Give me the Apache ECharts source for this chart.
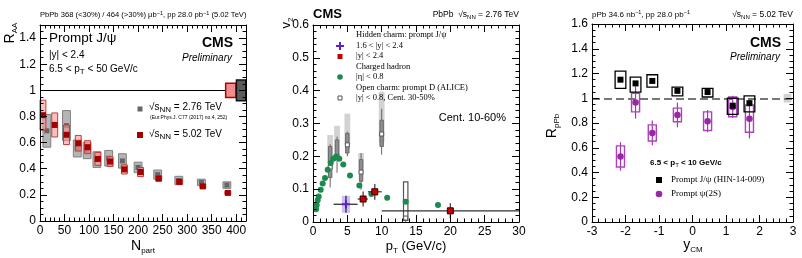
<!DOCTYPE html>
<html>
<head>
<meta charset="utf-8">
<script src="https://cdn.jsdelivr.net/npm/echarts@6/dist/echarts.min.js"></script>
<style>html,body{margin:0;padding:0;background:#fff}#c{width:802px;height:258px}</style>
</head>
<body>
<div id="c"></div>
<script>
// ---- left panel: R_AA vs Npart ----
var npart276 = [381, 329, 283, 240, 200, 168, 140, 116, 96, 76, 54, 14];
var raa276 = [0.275, 0.295, 0.31, 0.355, 0.41, 0.46, 0.48, 0.47, 0.54, 0.555, 0.73, 0.69];
var syst276 = [0.025, 0.025, 0.032, 0.035, 0.04, 0.055, 0.06, 0.06, 0.063, 0.065, 0.115, 0.125];
var npart502 = [383, 332, 284, 242, 205, 172, 143, 118, 97, 78, 54, 30, 6];
var raa502 = [0.215, 0.265, 0.30, 0.325, 0.375, 0.395, 0.455, 0.475, 0.565, 0.595, 0.66, 0.735, 0.81];
var syst502 = [0.013, 0.015, 0.018, 0.02, 0.035, 0.035, 0.037, 0.05, 0.05, 0.06, 0.075, 0.092, 0.115];
var global502 = 0.055, global276 = 0.08;

// ---- middle panel: v2 vs pT ----
var ptHadron = [0.44, 0.54, 0.68, 0.83, 1.12, 1.41, 1.75, 2.14, 2.58, 2.96, 3.35, 3.83, 4.41, 5.39, 6.75, 8.5, 10.8, 13.5, 18.2];
var v2Hadron = [0.039, 0.052, 0.066, 0.078, 0.098, 0.117, 0.134, 0.159, 0.18, 0.193, 0.199, 0.193, 0.175, 0.142, 0.111, 0.085, 0.074, 0.062, 0.052];
var ptD = [2.5, 3.5, 5.0, 7.0, 10.0, 13.5];
var v2D = [0.167, 0.20, 0.235, 0.152, 0.268, 0.012];
var dErrLo = [0.105, 0.15, 0.20, 0.098, 0.205, 0.0];
var dErrHi = [0.237, 0.26, 0.275, 0.21, 0.345, 0.12];
var dSystLo = [0.135, 0.19, 0.21, 0.124, 0.23, 0.005];
var dSystHi = [0.23, 0.25, 0.27, 0.19, 0.31, 0.122];
var dFeedLo = [0.18, 0.20, 0.237, 0.16, 0.243];
var dFeedHi = [0.265, 0.293, 0.33, 0.21, 0.397];
var ptJpsi = [7.3, 9.0, 20.0];
var v2Jpsi = [0.070, 0.092, 0.034];
var ptJpsiLo = [6.5, 8.0, 10.0];
var ptJpsiHi = [8.0, 10.0, 30.0];
var v2JpsiErr = [0.023, 0.024, 0.023];
var v2JpsiSyst = [0.01, 0.012, 0.01];
var ptJpsiFwd = [4.8];
var v2JpsiFwd = [0.054];
var ptJpsiFwdLo = [3.0];
var ptJpsiFwdHi = [6.5];
var v2JpsiFwdErr = [0.026];
var v2JpsiFwdSyst = [0.026];

// ---- right panel: R_pPb vs y_CM ----
var ycm = [-2.15, -1.7, -1.2, -0.45, 0.45, 1.2, 1.7];
var rJpsi = [1.15, 1.12, 1.14, 1.06, 1.05, 0.94, 0.96];
var rJpsiSystLo = [1.08, 1.05, 1.09, 1.02, 1.01, 0.87, 0.89];
var rJpsiSystHi = [1.22, 1.17, 1.19, 1.09, 1.08, 1.00, 1.02];
var rPsi2S = [0.53, 0.965, 0.72, 0.865, 0.815, 0.93, 0.835];
var rPsi2SErr = [0.115, 0.13, 0.10, 0.10, 0.09, 0.09, 0.16];
var rPsi2SSyst = [0.085, 0.075, 0.065, 0.055, 0.075, 0.08, 0.11];
var globalPPb = 0.035;

var FONT = '"Liberation Sans", Arial, sans-serif';
var SERIF = '"Liberation Serif", "Times New Roman", serif';
var CROSS = 'path://M3,0L5,0L5,3L8,3L8,5L5,5L5,8L3,8L3,5L0,5L0,3L3,3Z';

function mkAxis(gi, pos, min, max, interval, minor, labels, hideMax) {
    return {
        type: 'value', gridIndex: gi, position: pos, min: min, max: max, interval: interval,
        axisLine: {show: true, onZero: false, lineStyle: {color: '#000', width: 1}},
        axisTick: {show: true, inside: true, length: 7, lineStyle: {color: '#000', width: 1}},
        minorTick: {show: true, splitNumber: minor, length: 3.5, lineStyle: {color: '#000', width: 1}},
        splitLine: {show: false},
        axisLabel: {show: labels, color: '#000', fontSize: 12, fontFamily: FONT, margin: 4, showMaxLabel: hideMax ? false : null},
        z: 10
    };
}

function boxSeries(xi, yi, xs, lo, hi, hw, style, z) {
    var d = xs.map(function (x, i) { return [x, lo[i], hi[i]]; });
    return {
        type: 'custom', xAxisIndex: xi, yAxisIndex: yi, data: d, z: z, silent: true,
        encode: {x: 0, y: [1, 2]},
        renderItem: function (params, api) {
            var x = api.value(0);
            var a = api.coord([x - hw, api.value(2)]);
            var b = api.coord([x + hw, api.value(1)]);
            return {type: 'rect', shape: {x: a[0], y: a[1], width: b[0] - a[0], height: b[1] - a[1]}, style: style};
        }
    };
}

function errSeries(xi, yi, rows, color, w, z) {
    return {
        type: 'custom', xAxisIndex: xi, yAxisIndex: yi, data: rows, z: z, silent: true,
        encode: {x: 0, y: 1},
        renderItem: function (params, api) {
            var x = api.value(0), y = api.value(1);
            var v1 = api.coord([x, api.value(4)]), v2 = api.coord([x, api.value(5)]);
            var ch = [{type: 'line', shape: {x1: v1[0], y1: v1[1], x2: v2[0], y2: v2[1]}, style: {stroke: color, lineWidth: w}}];
            if (api.value(2) !== api.value(3)) {
                var h1 = api.coord([api.value(2), y]), h2 = api.coord([api.value(3), y]);
                ch.push({type: 'line', shape: {x1: h1[0], y1: h1[1], x2: h2[0], y2: h2[1]}, style: {stroke: color, lineWidth: w}});
            }
            return {type: 'group', children: ch};
        }
    };
}

function dots(xi, yi, xs, ys, symbol, size, color, border, z) {
    return {
        type: 'scatter', xAxisIndex: xi, yAxisIndex: yi, symbol: symbol, symbolSize: size, z: z, silent: true,
        itemStyle: {color: color, borderColor: border || color, borderWidth: border ? 1 : 0, opacity: 1},
        data: xs.map(function (x, i) { return [x, ys[i]]; })
    };
}

function pm(vals, errs, sign) {
    return vals.map(function (v, i) { return v + sign * errs[i]; });
}

var series = [];
// left
series.push({type: 'line', xAxisIndex: 0, yAxisIndex: 0, data: [], silent: true,
    markLine: {silent: true, symbol: 'none', label: {show: false}, animation: false,
        lineStyle: {color: '#000', width: 1, type: 'solid'}, data: [{yAxis: 1}]}});
series.push(boxSeries(0, 0, npart276, pm(raa276, syst276, -1), pm(raa276, syst276, 1), 8,
    {fill: 'rgba(150,150,150,0.7)', stroke: '#808080', lineWidth: 1}, 3));
series.push(dots(0, 0, npart276, raa276, 'rect', 5, '#666', null, 4));
series.push(boxSeries(0, 0, npart502, pm(raa502, syst502, -1), pm(raa502, syst502, 1), 6,
    {fill: 'rgba(245,150,150,0.6)', stroke: '#c83a3a', lineWidth: 1}, 5));
series.push(dots(0, 0, npart502, raa502, 'rect', 6, '#a50000', null, 6));
series.push(boxSeries(0, 0, [389], [1 - global502], [1 + global502], 10.5,
    {fill: '#f28c8c', stroke: '#b00000', lineWidth: 1.5}, 7));
series.push(boxSeries(0, 0, [410], [1 - global276], [1 + global276], 9.5,
    {fill: '#5c5c5c', stroke: '#111', lineWidth: 1.5}, 7));

// middle
series.push(boxSeries(2, 2, ptD.slice(0, 5), dFeedLo, dFeedHi, 0.42, {fill: '#d2d2d2'}, 2));
series.push(errSeries(2, 2, ptD.map(function (x, i) { return [x, v2D[i], x, x, dErrLo[i], dErrHi[i]]; }), '#666', 1, 3));
series.push(boxSeries(2, 2, ptD.slice(0, 5), dSystLo.slice(0, 5), dSystHi.slice(0, 5), 0.25,
    {fill: '#8e8e8e', stroke: '#6a6a6a', lineWidth: 1}, 4));
series.push(boxSeries(2, 2, ptD.slice(5), dSystLo.slice(5), dSystHi.slice(5), 0.32,
    {fill: '#fff', stroke: '#555', lineWidth: 1.2}, 4));
series.push(dots(2, 2, ptD, v2D, 'rect', 4, '#fff', '#555', 5));
series.push(dots(2, 2, ptHadron, v2Hadron, 'circle', 6, '#1b8a4c', null, 6));
series.push(boxSeries(2, 2, ptJpsiFwd, pm(v2JpsiFwd, v2JpsiFwdSyst, -1), pm(v2JpsiFwd, v2JpsiFwdSyst, 1), 0.6,
    {fill: 'rgba(175,150,235,0.6)'}, 7));
series.push(boxSeries(2, 2, ptJpsi, pm(v2Jpsi, v2JpsiSyst, -1), pm(v2Jpsi, v2JpsiSyst, 1), 0.45,
    {fill: 'rgba(240,140,140,0.6)'}, 7));
series.push(errSeries(2, 2, ptJpsiFwd.map(function (x, i) {
    return [x, v2JpsiFwd[i], ptJpsiFwdLo[i], ptJpsiFwdHi[i], v2JpsiFwd[i] - v2JpsiFwdErr[i], v2JpsiFwd[i] + v2JpsiFwdErr[i]];
}), '#222', 1.2, 8));
series.push(errSeries(2, 2, ptJpsi.map(function (x, i) {
    return [x, v2Jpsi[i], ptJpsiLo[i], ptJpsiHi[i], v2Jpsi[i] - v2JpsiErr[i], v2Jpsi[i] + v2JpsiErr[i]];
}), '#333', 1.2, 8));
series.push(dots(2, 2, ptJpsiFwd, v2JpsiFwd, CROSS, 8, '#5a24c8', null, 9));
series.push(dots(2, 2, ptJpsi, v2Jpsi, 'rect', 6, '#c40000', '#3a0000', 9));

// right
series.push({type: 'line', xAxisIndex: 4, yAxisIndex: 4, data: [], silent: true,
    markLine: {silent: true, symbol: 'none', label: {show: false}, animation: false,
        lineStyle: {color: '#777', width: 2, type: [8, 4]}, data: [{yAxis: 1}]}});
series.push(boxSeries(4, 4, [2.835], [1 - globalPPb], [1 + globalPPb], 0.115, {fill: '#d3d3d3'}, 3));
series.push(errSeries(4, 4, ycm.map(function (x, i) {
    return [x, rPsi2S[i], x, x, rPsi2S[i] - rPsi2SErr[i], rPsi2S[i] + rPsi2SErr[i]];
}), '#a436b0', 1.2, 4));
series.push(boxSeries(4, 4, ycm, pm(rPsi2S, rPsi2SSyst, -1), pm(rPsi2S, rPsi2SSyst, 1), 0.12,
    {fill: 'none', stroke: '#b040c0', lineWidth: 1.4}, 5));
series.push(dots(4, 4, ycm, rPsi2S, 'circle', 6.5, '#9a28a6', null, 6));
series.push(boxSeries(4, 4, ycm, rJpsiSystLo, rJpsiSystHi, 0.16,
    {fill: 'none', stroke: '#000', lineWidth: 1.3}, 7));
series.push(dots(4, 4, ycm, rJpsi, 'rect', 6, '#000', null, 8));

var rich = {
    s: {fontSize: 8, fontFamily: FONT, verticalAlign: 'bottom', lineHeight: 10},
    ss: {fontSize: 6, fontFamily: FONT, verticalAlign: 'bottom', lineHeight: 7},
    sp: {fontSize: 5.5, fontFamily: FONT, verticalAlign: 'top', lineHeight: 6}
};

function t(x, y, text, size, opts) {
    opts = opts || {};
    return {
        type: 'text', x: x, y: y, rotation: opts.rot || 0, z: 100, silent: true,
        style: {
            text: text, fontSize: size, fontFamily: opts.family || FONT,
            fontWeight: opts.weight || 'normal', fontStyle: opts.style || 'normal',
            fill: '#000', lineHeight: opts.lh || Math.round(size * 1.35),
            align: opts.align || 'left', verticalAlign: 'middle',
            textAlign: opts.align || 'left', textVerticalAlign: 'middle',
            rich: rich
        }
    };
}

function crossPts(cx, cy) {
    var p = [[-1, -4], [1, -4], [1, -1], [4, -1], [4, 1], [1, 1], [1, 4], [-1, 4], [-1, 1], [-4, 1], [-4, -1], [-1, -1]];
    return p.map(function (q) { return [cx + q[0], cy + q[1]]; });
}

var graphics = [
    // left
    t(40, 15, 'PbPb 368 (<30%) / 464 (>30%) μb{sp|−1}, pp 28.0 pb{sp|−1} (5.02 TeV)', 7.6),
    t(49, 38, 'Prompt J/ψ', 13.5),
    t(49, 55, '|y| < 2.4', 10),
    t(49, 69, '6.5 < p{s|T} < 50 GeV/c', 10),
    t(233, 43, 'CMS', 14, {weight: 'bold', align: 'right'}),
    t(232, 58, 'Preliminary', 10, {style: 'italic', align: 'right'}),
    {type: 'rect', z: 100, shape: {x: 137.5, y: 106.5, width: 5, height: 5}, style: {fill: '#666'}},
    t(149, 107, '√s{s|NN} = 2.76 TeV', 10),
    t(150, 118, '(Eur.Phys.J. C77 (2017) no.4, 252)', 5),
    {type: 'rect', z: 100, shape: {x: 137, y: 132, width: 6, height: 6}, style: {fill: '#a50000'}},
    t(149, 134, '√s{s|NN} = 5.02 TeV', 10),
    t(10, 33, 'R{s|AA}', 14, {rot: Math.PI / 2, align: 'center', lh: 18}),
    t(143, 246, 'N{s|part}', 14, {align: 'center', lh: 18}),
    // middle
    t(313, 14, 'CMS', 13, {weight: 'bold'}),
    t(519, 15, 'PbPb  √s{ss|NN} = 2.76 TeV', 8.5, {align: 'right'}),
    t(286, 23, 'v{s|2}', 13, {rot: Math.PI / 2, align: 'center', lh: 17}),
    t(356, 35, 'Hidden charm: prompt J/ψ', 8.5, {family: SERIF}),
    {type: 'polygon', z: 100, shape: {points: crossPts(340, 46)}, style: {fill: '#5a24c8'}},
    t(356, 46, '1.6 < |y| < 2.4', 8.5, {family: SERIF}),
    {type: 'rect', z: 100, shape: {x: 337.5, y: 54, width: 5, height: 5}, style: {fill: '#c40000'}},
    t(356, 56, '|y| < 2.4', 8.5, {family: SERIF}),
    t(356, 67, 'Charged hadron', 8.5, {family: SERIF}),
    {type: 'circle', z: 100, shape: {cx: 340, cy: 77, r: 2.8}, style: {fill: '#1b8a4c'}},
    t(356, 77, '|η| < 0.8', 8.5, {family: SERIF}),
    t(356, 88, 'Open charm: prompt D (ALICE)', 8.5, {family: SERIF}),
    {type: 'rect', z: 100, shape: {x: 338, y: 96, width: 4, height: 4}, style: {fill: '#fff', stroke: '#555', lineWidth: 1}},
    t(356, 98, '|y| < 0.8, Cent. 30-50%', 8.5, {family: SERIF}),
    t(506, 118, 'Cent. 10-60%', 11, {align: 'right'}),
    t(416, 246, 'p{s|T} (GeV/c)', 13, {align: 'center', lh: 18}),
    // right
    t(592, 15, 'pPb 34.6 nb{sp|−1}, pp 28.0 pb{sp|−1}', 8),
    t(793, 15, '√s{ss|NN} = 5.02 TeV', 8.5, {align: 'right'}),
    t(781, 43, 'CMS', 14, {weight: 'bold', align: 'right'}),
    t(780, 57, 'Preliminary', 10, {style: 'italic', align: 'right'}),
    t(650, 163, '6.5 < p{ss|T} < 10 GeV/c', 8, {weight: 'bold'}),
    {type: 'rect', z: 100, shape: {x: 656, y: 177, width: 6, height: 6}, style: {fill: '#000'}},
    t(671, 180, 'Prompt J/ψ (HIN-14-009)', 9, {family: SERIF}),
    {type: 'circle', z: 100, shape: {cx: 659, cy: 194, r: 3.3}, style: {fill: '#9a28a6'}},
    t(671, 194, 'Prompt ψ(2S)', 9, {family: SERIF}),
    t(552, 126, 'R{s|pPb}', 14, {rot: Math.PI / 2, align: 'center', lh: 18}),
    t(693, 245, 'y{s|CM}', 14, {align: 'center', lh: 18})
];

var chart = echarts.init(document.getElementById('c'), null, {renderer: 'canvas'});
chart.setOption({
    animation: false,
    backgroundColor: '#fff',
    grid: [
        {left: 40, top: 25, width: 206, height: 196},
        {left: 313, top: 25, width: 206, height: 197},
        {left: 592, top: 24, width: 201, height: 198}
    ],
    xAxis: [
        mkAxis(0, 'bottom', 0, 420, 50, 5, true, true),
        mkAxis(0, 'top', 0, 420, 50, 5, false),
        mkAxis(1, 'bottom', 0, 30, 5, 5, true),
        mkAxis(1, 'top', 0, 30, 5, 5, false),
        mkAxis(2, 'bottom', -3, 3, 1, 5, true),
        mkAxis(2, 'top', -3, 3, 1, 5, false)
    ],
    yAxis: [
        mkAxis(0, 'left', 0, 1.5, 0.2, 4, true, true),
        mkAxis(0, 'right', 0, 1.5, 0.2, 4, false),
        mkAxis(1, 'left', 0, 0.6, 0.1, 5, true),
        mkAxis(1, 'right', 0, 0.6, 0.1, 5, false),
        mkAxis(2, 'left', 0, 1.6, 0.2, 4, true),
        mkAxis(2, 'right', 0, 1.6, 0.2, 4, false)
    ],
    series: series,
    graphic: graphics
});
</script>
</body>
</html>
